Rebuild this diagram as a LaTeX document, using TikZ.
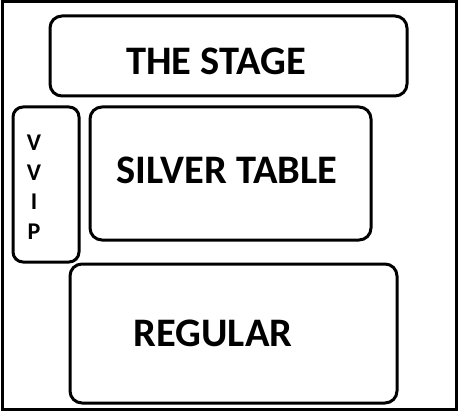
\documentclass[tikz,border=0pt]{standalone}
\usepackage{fontspec}
\setmainfont{Carlito}
\tikzset{
  zone/.style={line width=3pt, rounded corners=12pt},
  bigtag/.style={font=\fontsize{40.5}{44}\selectfont\bfseries, inner sep=0pt},
  smalltag/.style={font=\fontsize{24}{29.5}\selectfont\bfseries, align=center, inner sep=0pt}
}
\begin{document}
\begin{tikzpicture}[x=1pt, y=-1pt]
        \useasboundingbox (0,0) rectangle (460,414);
        \draw[line width=3pt] (2,2) rectangle (456,409);
        \draw[zone] (50,16) rectangle (407,96);
        \draw[zone, rounded corners=10pt] (13,107) rectangle (79,262);
        \draw[zone] (90,107) rectangle (371,240);
        \draw[zone] (70,264) rectangle (397,403);
        \node[bigtag] (stage) at (216,61) {THE STAGE};
        \node[bigtag] (silver) at (227,170) {SILVER TABLE};
        \node[bigtag] (regular) at (213,333) {REGULAR};
        \node[smalltag] (vvip) at (34,187) {V\\V\\I\\P};
    \end{tikzpicture}
\end{document}
